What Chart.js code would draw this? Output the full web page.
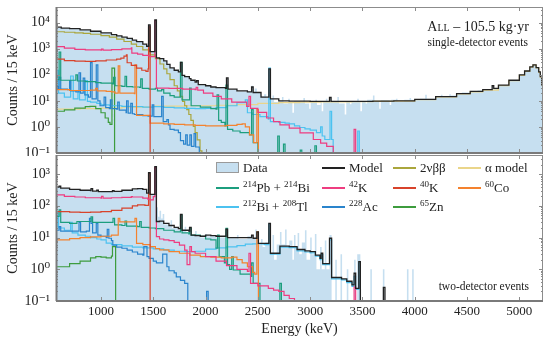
<!DOCTYPE html>
<html>
<head>
<meta charset="utf-8">
<script src="https://cdn.jsdelivr.net/npm/chart.js@4.4.1/dist/chart.umd.min.js"></script>
<style>
  body { margin: 0; background: #fff; }
  #wrap { position: relative; width: 550px; height: 343px; font-family: 'Liberation Serif', 'DejaVu Serif', serif; color: #222; }
  canvas { position: absolute; left: 0; }
  .note { position: absolute; text-align: right; white-space: nowrap; line-height: 1; }
  .leg { position: absolute; font-size: 13px; line-height: 1; white-space: nowrap; }
  .leg sup { font-size: 9px; vertical-align: 5px; line-height: 0; }
  .swatch { position: absolute; }
</style>
</head>
<body>
<div id="wrap">
  <canvas id="topChart" width="550" height="156" style="top:0"></canvas>
  <canvas id="botChart" width="550" height="190" style="top:153px"></canvas>
  <div class="note" style="right:21px;top:20px;font-size:14px"><span style="font-variant:small-caps">All</span> – 105.5 kg·yr</div>
  <div class="note" style="right:22px;top:37px;font-size:11.5px">single-detector events</div>
  <div class="note" style="right:21px;top:281px;font-size:11.5px">two-detector events</div>
  <div id="legend"></div>
</div>
<script>
// ---- axis settings ----
const ENERGY_MIN = 570;
const ENERGY_MAX = 5226;
const xTickValues = [1000, 1500, 2000, 2500, 3000, 3500, 4000, 4500, 5000];

// ---- single-detector spectra: [energy (keV), counts / 15 keV], each value holds until the next energy ----
const dataTop = [[570,6300],[620,6000],[700,5600],[800,5100],[900,4500],[1000,3900],[1100,3300],[1150,3000],[1200,2700],[1250,2400],[1300,2050],[1340,1800],[1400,1450],[1437,1200],[1455,8000],[1470,760],[1515,12500],[1530,440],[1560,410],[1600,330],[1630,245],[1660,180],[1700,145],[1740,125],[1760,290],[1775,92],[1800,83],[1845,70],[1860,60],[1900,50],[1915,58],[1930,40],[2000,37],[2050,33],[2100,31],[2190,29],[2200,74],[2215,27],[2300,23],[2400,23],[2440,38],[2455,22],[2470,30],[2490,20],[2530,15],[2560,18],[2580,13],[2605,165],[2620,12],[2640,16],[2655,9],[2700,10],[2730,14],[2745,8],[2790,12],[2805,9],[2830,3.5],[2845,10],[2900,9],[2935,13],[2950,8],[2990,5],[3005,9.5],[3050,11],[3065,7],[3100,9],[3110,4],[3125,9],[3150,12],[3165,9],[3185,13],[3200,9],[3260,14],[3275,8],[3330,3],[3345,10],[3380,7.5],[3395,10],[3450,12],[3465,9],[3480,4],[3495,9],[3530,8],[3545,11],[3600,16],[3615,10],[3660,5],[3675,10.5],[3760,7],[3775,11],[3820,12],[3835,9],[3900,11],[3950,13],[3965,11],[4050,12],[4100,17],[4115,12],[4200,14],[4250,17],[4265,15],[4330,18],[4345,16],[4400,19],[4450,21],[4530,23],[4600,25],[4650,27],[4740,36],[4755,31],[4800,40],[4900,62],[5000,100],[5050,140],[5100,200],[5130,240],[5160,195],[5185,135],[5200,85],[5215,40],[5226,25]];
const modelTop = [[570,6700],[620,6200],[700,5900],[800,5300],[900,4700],[1000,4100],[1100,3500],[1150,3100],[1200,2800],[1250,2500],[1300,2150],[1340,1880],[1400,1500],[1437,1250],[1455,8200],[1470,780],[1515,12700],[1530,450],[1560,420],[1600,340],[1630,250],[1660,185],[1700,150],[1740,130],[1760,300],[1775,95],[1800,85],[1845,72],[1860,62],[1900,52],[1915,60],[1930,42],[2000,38],[2050,34],[2100,32],[2190,30],[2200,76],[2215,28],[2300,24],[2400,22],[2440,34],[2455,21],[2530,14],[2605,170],[2620,12],[2700,10],[2800,9.7],[3000,9.5],[3185,13.5],[3200,9.5],[3400,9.5],[3600,9.7],[3800,10],[4000,11.5],[4200,14.5],[4400,19],[4530,23],[4650,27],[4740,38],[4755,30],[4800,40],[4900,62],[5000,100],[5050,140],[5100,200],[5130,240],[5160,190],[5185,130],[5200,85],[5215,40],[5226,25]];
const bbTop = [[570,4500],[650,4300],[750,4100],[830,3900],[900,3600],[1000,3200],[1080,2800],[1150,2350],[1220,1900],[1290,1500],[1340,1220],[1400,900],[1470,580],[1520,420],[1564,260],[1600,170],[1630,110],[1660,65],[1700,38],[1730,24],[1755,15],[1780,9.5],[1800,6.5],[1820,4.6],[1840,3],[1860,1.8],[1883,1.05],[1900,0.6],[1920,0.32],[1947,0.12],[1965,0.01],[1980,0.01]];
const alphaTop = [[570,4.8],[800,5.0],[1000,5.3],[1200,5.8],[1500,6.3],[1800,6.5],[2100,6.8],[2300,7.2],[2500,8],[2700,8.5],[2900,9],[3100,9.2],[3400,9.3],[3600,9.5],[3800,9.8],[4000,11.2],[4200,14.2],[4400,18.5],[4530,22],[4650,26],[4800,38],[4900,60],[5000,96],[5050,135],[5100,195],[5130,235],[5160,185],[5185,125],[5200,80],[5215,38],[5226,24]];
const k42Top = [[570,1200],[650,1050],[750,950],[850,900],[1000,880],[1005,960],[1020,890],[1100,920],[1200,990],[1290,1080],[1295,680],[1350,620],[1400,560],[1460,500],[1515,12000],[1530,31],[1650,30],[1780,28],[1900,27],[1910,33],[1925,26],[1980,20],[2070,15],[2150,12],[2250,9],[2393,6.2],[2415,15],[2430,5.2],[2500,3.6],[2584,2.2],[2650,1.6],[2711,1.2],[2800,0.9],[2903,0.59],[3030,0.33],[3100,0.24],[3158,0.18],[3221,0.1],[3235,0.01],[3420,0.8],[3435,0.01],[3450,0.01]];
const k40Top = [[570,400],[650,350],[750,335],[850,330],[950,345],[1050,370],[1150,400],[1190,440],[1220,520],[1243,580],[1250,290],[1290,230],[1340,180],[1390,150],[1430,135],[1450,170],[1455,7000],[1470,0.01],[1480,0.01]];
const co60Top = [[570,27],[700,25],[800,25],[900,26],[950,30],[965,24],[1050,23],[1100,22],[1134,20],[1165,221],[1180,20],[1250,20],[1320,19],[1325,242],[1340,2.8],[1470,1.4],[1600,1.3],[1700,1.25],[1800,1.2],[1900,1.15],[2000,1.1],[2100,1.1],[2200,1.15],[2300,1.25],[2350,1.3],[2380,1.0],[2420,0.5],[2460,0.25],[2490,4.6],[2505,0.01],[2520,0.01]];
const pbbiTop = [[570,65],[600,750],[615,62],[700,62],[750,62],[760,100],[775,58],[850,55],[950,50],[1000,48],[1110,45],[1120,80],[1135,38],[1200,36],[1230,88],[1245,35],[1300,34],[1370,33],[1380,70],[1395,30],[1460,28],[1520,30],[1540,24],[1580,27],[1600,20],[1660,16],[1700,14],[1760,300],[1775,11],[1840,11],[1847,31],[1862,6.5],[1950,5.8],[2050,5],[2100,4.8],[2110,17],[2125,1.8],[2150,1.5],[2185,1.1],[2195,40],[2210,0.8],[2260,0.7],[2330,0.6],[2420,0.5],[2440,4.6],[2455,0.25],[2500,0.01],[2680,0.01],[2690,0.45],[2705,0.01],[2745,0.22],[2760,0.01],[2900,0.01],[2905,0.13],[2920,0.01],[3045,0.19],[3060,0.01],[3250,0.01]];
const bitlTop = [[570,40],[580,150],[595,20],[650,14],[710,90],[735,12],[780,25],[795,11],[850,60],[870,9.5],[900,9],[960,8],[1000,7],[1080,6.5],[1200,6.2],[1300,6],[1400,5.8],[1500,6],[1600,5.6],[1700,5.4],[1800,5.2],[1900,5],[2000,5.2],[2100,5.5],[2200,6.5],[2300,8.5],[2380,11],[2400,3.5],[2450,3],[2520,2.5],[2600,2],[2605,180],[2620,1.6],[2700,1.5],[2760,1.4],[2800,1.3],[2850,1.1],[2900,0.95],[2950,0.85],[3000,0.75],[3060,0.6],[3100,1.0],[3115,0.45],[3140,0.33],[3190,4],[3205,0.33],[3220,0.01],[3455,0.7],[3470,0.01],[3500,0.01]];
const ac228Top = [[570,35],[590,28],[600,80],[615,28],[680,27],[700,60],[712,24],[760,22],[790,120],[805,20],[830,75],[845,17],[880,14],[900,296],[915,12],[955,242],[970,10],[991,6.5],[1030,14],[1045,5.5],[1080,5],[1090,11],[1105,5],[1150,4.8],[1160,9],[1175,4.4],[1240,3.5],[1245,10],[1260,3.4],[1285,8],[1300,3.2],[1320,3],[1400,2.7],[1450,2.6],[1490,7],[1505,2.5],[1540,2.5],[1580,14.8],[1595,1.6],[1630,1.9],[1645,1.2],[1660,0.8],[1700,0.75],[1740,0.6],[1760,0.3],[1790,0.22],[1810,0.5],[1825,0.2],[1850,0.5],[1865,0.18],[1890,0.55],[1905,0.17],[1940,0.01],[1960,0.01]];
const zn65Top = [[570,4],[650,4.5],[750,5.3],[850,6],[895,6.2],[950,5],[1000,3.5],[1040,2.2],[1070,1.5],[1086,1.25],[1105,181],[1130,0.01],[1150,0.01]];

// ---- two-detector spectra ----
const dataBot = [[570,380],[600,410],[615,350],[700,320],[800,300],[900,290],[905,340],[920,280],[960,300],[975,270],[1000,275],[1100,275],[1110,290],[1125,280],[1200,300],[1300,330],[1350,340],[1400,320],[1437,240],[1455,1100],[1470,225],[1515,1700],[1530,90],[1545,45],[1560,70],[1575,40],[1590,55],[1605,26],[1650,23],[1665,35],[1680,20],[1740,18],[1760,52],[1775,17],[1800,22],[1815,15],[1847,20],[1862,12],[1900,16],[1915,11],[1950,10],[2000,13],[2015,11],[2050,11],[2100,10],[2195,18],[2210,9.5],[2300,12],[2315,9],[2400,11],[2440,12],[2455,9],[2475,18],[2490,15],[2505,6],[2530,9],[2545,5],[2570,7],[2605,27],[2620,3],[2640,12],[2655,2],[2680,6],[2711,15],[2726,6],[2760,18],[2775,5],[2800,8],[2830,2],[2845,12],[2860,5],[2880,14],[2895,3],[2920,7],[2950,17],[2965,2],[3000,10],[3015,3],[3045,13],[3060,1],[3094,5],[3110,1],[3140,8],[3155,1],[3185,12],[3205,0.01],[3240,2],[3255,0.01],[3290,3],[3305,0.01],[3350,1],[3365,0.01],[3420,2],[3435,0.01],[3450,3],[3480,0.01],[3575,1],[3590,0.01],[3695,1],[3710,0.01],[3925,1],[3940,0.01],[3975,1],[3990,0.01],[5226,0.01]];
const modelBot = [[570,390],[600,420],[615,360],[700,330],[800,310],[900,300],[905,350],[920,290],[960,310],[975,280],[1000,280],[1100,280],[1110,300],[1125,285],[1200,310],[1300,340],[1350,350],[1400,330],[1437,250],[1455,1110],[1470,230],[1515,1730],[1530,32],[1560,33],[1600,28],[1650,24],[1700,21],[1740,19],[1760,54],[1775,17],[1840,16],[1847,21],[1862,12],[1900,11.5],[1950,11],[2000,12],[2050,11.5],[2100,11],[2195,18.4],[2210,10],[2300,10],[2400,10],[2440,12],[2455,9.5],[2490,15.2],[2505,6.6],[2605,28],[2620,3.2],[2711,5.4],[2800,5.2],[2875,4.2],[2950,3.8],[3000,3.6],[3050,2.8],[3094,2.2],[3105,3.2],[3120,1.5],[3185,9.5],[3205,0.55],[3300,0.5],[3350,0.42],[3400,0.32],[3420,0.75],[3435,0.25],[3465,1.74],[3480,0.01],[3690,0.01],[3700,0.27],[3715,0.01],[3800,0.01]];
const k42Bot = [[570,221],[650,200],[750,190],[850,180],[1000,175],[1005,200],[1020,175],[1100,180],[1200,185],[1290,195],[1300,190],[1400,175],[1450,160],[1470,153],[1500,195],[1515,1600],[1530,10.7],[1560,9],[1600,8.5],[1650,8],[1700,7],[1750,5.8],[1800,4],[1823,1.4],[1850,5.2],[1865,3.6],[1900,3.2],[2000,2.5],[2100,1.8],[2200,1.3],[2300,1],[2400,0.85],[2415,3.2],[2430,0.36],[2500,0.3],[2600,0.25],[2650,0.22],[2700,0.2],[2750,0.15],[2800,0.12],[2850,0.01],[3420,0.28],[3435,0.01],[3450,0.01]];
const k40Bot = [[570,66],[700,63],[800,62],[900,63],[1000,66],[1100,72],[1200,85],[1300,100],[1350,107],[1420,104],[1455,1050],[1470,0.01],[1500,0.01]];
const co60Bot = [[570,8.4],[700,9.3],[800,10],[900,10.5],[1000,11],[1100,12],[1165,40],[1180,31],[1250,31],[1325,40],[1340,6.6],[1400,6],[1470,5.2],[1520,4.5],[1560,4.06],[1650,3.6],[1750,3.2],[1850,2.8],[1950,2.5],[2050,2.4],[2150,2.3],[2200,2.3],[2250,2.4],[2300,2.0],[2350,1.6],[2400,1.2],[2450,0.8],[2470,0.7],[2490,15.2],[2505,0.01],[2520,0.01]];
const pbbiBot = [[570,46],[600,74],[615,30],[700,28],[770,32],[900,32],[905,45],[920,30],[1000,30],[1100,30],[1115,40],[1130,25],[1200,24],[1230,33],[1245,23],[1350,22],[1370,32],[1385,21],[1460,20],[1520,19],[1600,17],[1700,15],[1760,52],[1775,14],[1840,13],[1847,20],[1862,12],[1950,11],[2000,9],[2050,8.5],[2100,4.6],[2115,12],[2130,2.5],[2180,1.6],[2195,19.5],[2210,1.4],[2230,1.0],[2250,2.5],[2265,0.95],[2330,0.7],[2430,0.6],[2440,1.6],[2455,0.36],[2500,0.36],[2520,0.01],[2700,0.01],[2710,0.36],[2725,0.01],[2800,0.01]];
const bitlBot = [[570,22],[580,60],[595,20],[650,17],[710,30],[725,14],[780,12],[850,11],[900,10],[960,9],[1000,8.4],[1050,6.7],[1100,6],[1200,5.5],[1300,5],[1400,4.7],[1500,4.4],[1600,4],[1700,3.7],[1800,3.6],[1900,3.7],[2000,4.3],[2100,4.7],[2200,5.1],[2300,5.6],[2380,6.2],[2450,6.3],[2500,6.3],[2560,6],[2605,27],[2620,3],[2711,5],[2800,4.8],[2875,3.8],[2950,3.5],[3000,3.3],[3050,2.6],[3094,2],[3105,2.9],[3120,1.4],[3185,8.5],[3205,0.5],[3300,0.46],[3350,0.38],[3400,0.29],[3420,0.6],[3435,0.23],[3465,1.6],[3480,0.01],[3500,0.01]];
const ac228Bot = [[570,17],[600,22],[615,16],[700,16],[790,30],[805,15],[860,16],[890,40],[905,28],[920,14],[955,28],[970,12],[1000,11],[1050,10],[1060,18],[1075,9.5],[1100,8],[1113,5.8],[1150,5],[1200,4.6],[1250,4],[1300,3.5],[1350,3],[1400,2.8],[1410,5.2],[1440,2.5],[1460,2.2],[1500,1.8],[1530,1.6],[1590,3],[1630,1.2],[1650,0.9],[1700,0.77],[1720,0.58],[1760,0.45],[1800,0.36],[1830,0.01],[2000,0.01],[2010,0.2],[2025,0.01],[2100,0.01]];
const zn65Bot = [[570,1.2],[700,1.5],[800,1.8],[900,2.3],[950,2.5],[1000,2.4],[1050,2.3],[1100,2.6],[1110,5.2],[1140,0.01],[1160,0.01]];

// ---- colours ----
const colors = {
  data: '#c6dff0',
  model: '#222222',
  bb: '#aaa63c',
  alpha: '#ead58a',
  pbbi: '#1c9e7e',
  k42: '#ee3d80',
  k40: '#d8432b',
  co60: '#f4822e',
  bitl: '#4cc2f0',
  ac228: '#2a84cc',
  zn65: '#3d9c3d'
};

const SUP = { '-': '⁻', '0': '⁰', '1': '¹', '2': '²', '3': '³', '4': '⁴', '5': '⁵', '6': '⁶', '7': '⁷', '8': '⁸', '9': '⁹' };
function powLabel(v) {
  const e = Math.round(Math.log10(v));
  return '10' + String(e).split('').map(c => SUP[c]).join('');
}

function toPoints(arr) {
  return arr.map(p => ({ x: p[0], y: p[1] }));
}

function line(pts, color, width) {
  return {
    data: toPoints(pts), borderColor: color, borderWidth: width || 1.2,
    stepped: true, pointRadius: 0, fill: false
  };
}

function dataFill(pts) {
  return {
    data: toPoints(pts), backgroundColor: colors.data, borderColor: 'rgba(0,0,0,0)',
    borderWidth: 1, stepped: true, pointRadius: 0, fill: 'start'
  };
}

// frame with inward ticks
const framePlugin = {
  id: 'frame',
  afterDatasetsDraw(chart) {
    const { ctx, chartArea: a, scales: { x, y } } = chart;
    ctx.save();
    ctx.strokeStyle = '#8c8c8c';
    ctx.lineWidth = 1;
    ctx.beginPath();
    xTickValues.forEach(v => {
      const px = Math.round(x.getPixelForValue(v)) + 0.5;
      ctx.moveTo(px, a.bottom); ctx.lineTo(px, a.bottom - 4);
      ctx.moveTo(px, a.top); ctx.lineTo(px, a.top + 4);
    });
    for (let e = -1; e <= 4; e++) {
      for (let m = 1; m <= 9; m++) {
        const v = m * Math.pow(10, e);
        if (v < y.min || v > y.max) continue;
        const py = Math.round(y.getPixelForValue(v)) + 0.5;
        const len = m === 1 ? 4 : 2;
        ctx.moveTo(a.left, py); ctx.lineTo(a.left + len, py);
        ctx.moveTo(a.right, py); ctx.lineTo(a.right - len, py);
      }
    }
    ctx.stroke();
    ctx.strokeRect(a.left + 0.5, a.top + 0.5, a.width - 1, a.height - 1);
    ctx.lineWidth = 2;
    ctx.strokeStyle = '#7a7a7a';
    ctx.beginPath();
    ctx.moveTo(a.left, a.bottom); ctx.lineTo(a.right, a.bottom);
    ctx.moveTo(a.left + 0.5, a.top); ctx.lineTo(a.left + 0.5, a.bottom);
    ctx.stroke();
    ctx.restore();
  }
};

const serif = "'Liberation Serif', 'DejaVu Serif', serif";

function makeOptions(o) {
  return {
    responsive: false,
    animation: false,
    events: [],
    layout: { padding: o.padding },
    plugins: { legend: { display: false }, tooltip: { enabled: false } },
    scales: {
      x: {
        type: 'linear', min: ENERGY_MIN, max: ENERGY_MAX,
        grid: { display: false, drawTicks: false },
        border: { display: false },
        ticks: { display: o.showX, padding: 3, color: '#222', font: { family: serif, size: 13 }, maxRotation: 0, callback: v => String(v) },
        afterBuildTicks: s => { s.ticks = xTickValues.map(v => ({ value: v })); },
        afterFit: s => { s.height = o.xHeight; s.paddingLeft = 0; s.paddingRight = 0; },
        title: { display: o.showX, text: 'Energy (keV)', color: '#222', font: { family: serif, size: 14 }, padding: { top: 0, bottom: 5 } }
      },
      y: {
        type: 'logarithmic', min: 0.1, max: o.yMax,
        grid: { display: false, drawTicks: false },
        border: { display: false },
        ticks: { padding: 6, color: '#222', font: { family: serif, size: 14 }, callback: v => powLabel(v) },
        afterBuildTicks: s => { s.ticks = o.yTicks.map(v => ({ value: v })); },
        afterFit: s => { s.width = 56; s.paddingTop = 0; s.paddingBottom = 0; },
        title: { display: true, text: 'Counts / 15 keV', color: '#222', font: { family: serif, size: 14 }, padding: { top: 5, bottom: 0 } }
      }
    }
  };
}

new Chart(document.getElementById('topChart'), {
  type: 'line',
  data: {
    datasets: [
      line(modelTop, colors.model, 1.3),
      line(k42Top, colors.k42),
      line(k40Top, colors.k40),
      line(co60Top, colors.co60),
      line(pbbiTop, colors.pbbi),
      line(ac228Top, colors.ac228),
      line(bitlTop, colors.bitl),
      line(zn65Top, colors.zn65),
      line(bbTop, colors.bb),
      line(alphaTop, colors.alpha),
      dataFill(dataTop)
    ]
  },
  options: makeOptions({ padding: { top: 7, right: 7, left: 0, bottom: 0 }, showX: false, xHeight: 3, yMax: 40000, yTicks: [0.1, 1, 10, 100, 1000, 10000] }),
  plugins: [framePlugin]
});

new Chart(document.getElementById('botChart'), {
  type: 'line',
  data: {
    datasets: [
      line(modelBot, colors.model, 1.3),
      line(k42Bot, colors.k42),
      line(k40Bot, colors.k40),
      line(co60Bot, colors.co60),
      line(pbbiBot, colors.pbbi),
      line(ac228Bot, colors.ac228),
      line(bitlBot, colors.bitl),
      line(zn65Bot, colors.zn65),
      dataFill(dataBot)
    ]
  },
  options: makeOptions({ padding: { top: 2, right: 7, left: 0, bottom: 0 }, showX: true, xHeight: 42, yMax: 4000, yTicks: [0.1, 1, 10, 100, 1000] }),
  plugins: [framePlugin]
});

// ---- legend ----
const legendItems = [
  { label: 'Data', color: colors.data, kind: 'box', col: 0, row: 0 },
  { label: 'Model', color: colors.model, col: 1, row: 0 },
  { label: '2νββ', color: colors.bb, col: 2, row: 0 },
  { label: 'α model', color: colors.alpha, col: 3, row: 0 },
  { label: '<sup>214</sup>Pb + <sup>214</sup>Bi', color: colors.pbbi, col: 0, row: 1 },
  { label: '<sup>42</sup>K', color: colors.k42, col: 1, row: 1 },
  { label: '<sup>40</sup>K', color: colors.k40, col: 2, row: 1 },
  { label: '<sup>60</sup>Co', color: colors.co60, col: 3, row: 1 },
  { label: '<sup>212</sup>Bi + <sup>208</sup>Tl', color: colors.bitl, col: 0, row: 2 },
  { label: '<sup>228</sup>Ac', color: colors.ac228, col: 1, row: 2 },
  { label: '<sup>65</sup>Zn', color: colors.zn65, col: 2, row: 2 }
];
const legCols = [216, 322, 393, 458];
const legRows = [168, 188, 207];
const legendDiv = document.getElementById('legend');
legendItems.forEach(it => {
  const x = legCols[it.col];
  const y = legRows[it.row];
  const sw = document.createElement('div');
  sw.className = 'swatch';
  if (it.kind === 'box') {
    sw.style.cssText = `left:${x}px;top:${y - 6}px;width:23px;height:11px;background:${it.color};border:1px solid #9a9a9a;box-sizing:border-box;`;
  } else {
    sw.style.cssText = `left:${x}px;top:${y - 1}px;width:23px;height:1.5px;background:${it.color};`;
  }
  legendDiv.appendChild(sw);
  const lab = document.createElement('div');
  lab.className = 'leg';
  lab.style.left = (x + 27) + 'px';
  lab.style.top = (y - 7) + 'px';
  lab.innerHTML = it.label;
  legendDiv.appendChild(lab);
});
</script>
</body>
</html>
